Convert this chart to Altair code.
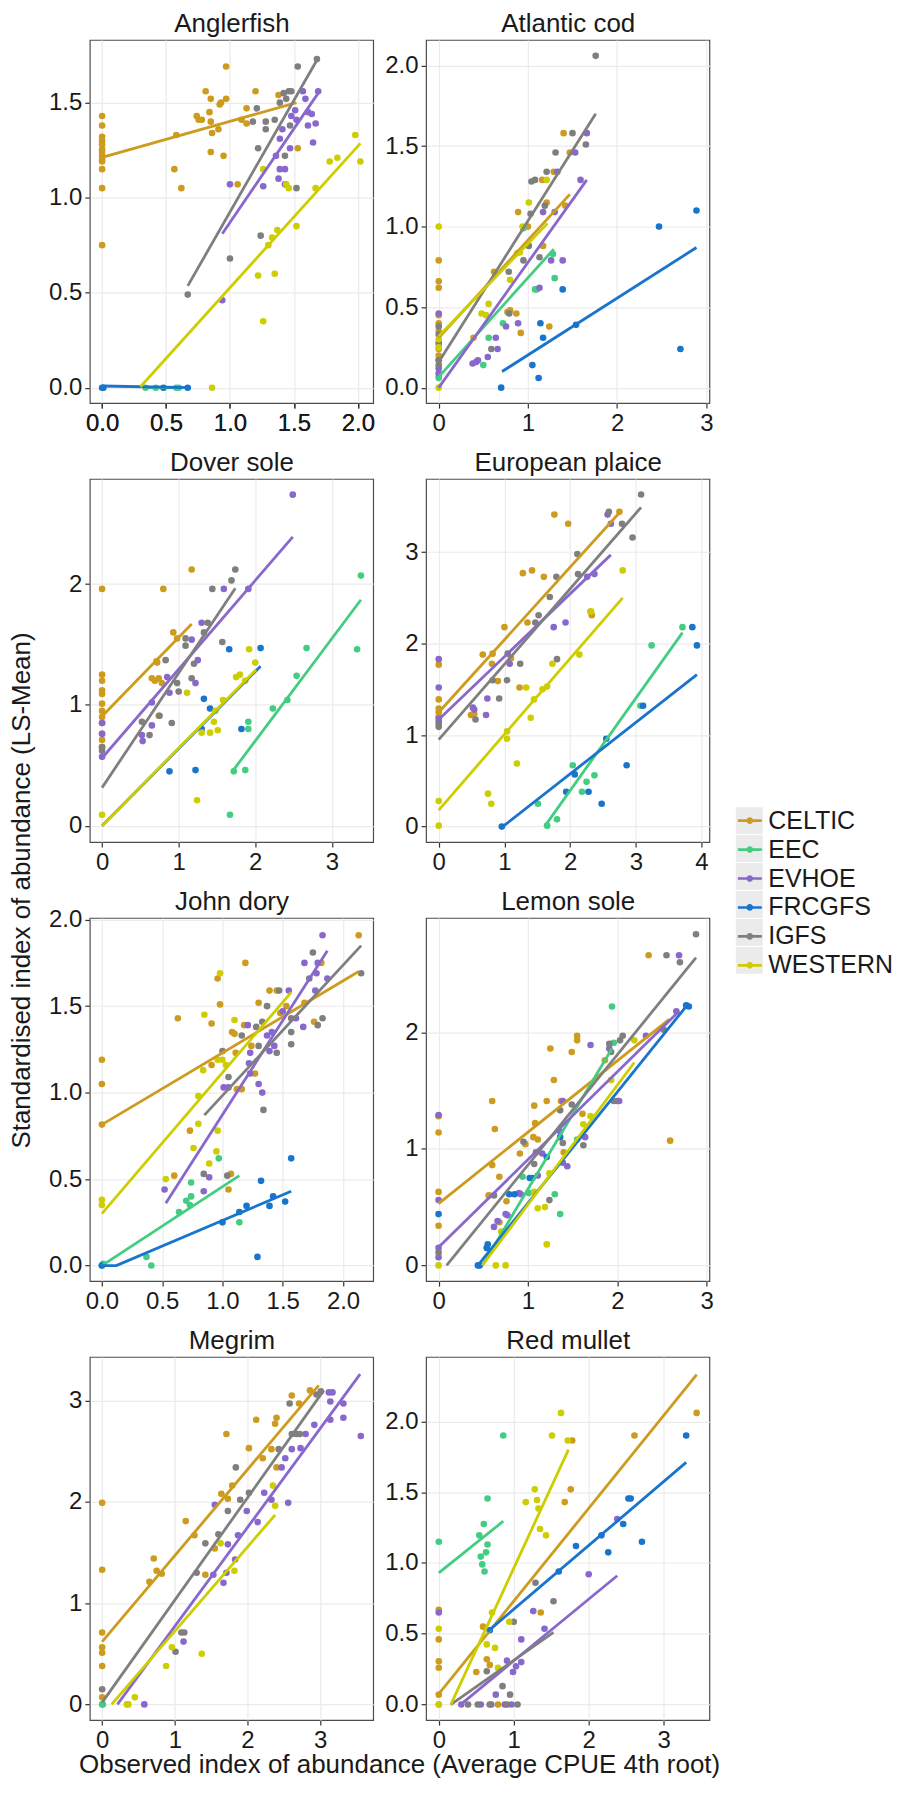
import altair as alt
import pandas as pd

FONT = "Liberation Sans"
SURVEYS = ["CELTIC", "EEC", "EVHOE", "FRCGFS", "IGFS", "WESTERN"]
COLORS = ["#CD9B1D", "#43CD80", "#8968CD", "#1874CD", "#7F7F7F", "#CDCD00"]
KEY_IDS = ["key1", "key2", "key3", "key4", "key5", "key6"]
SPECIES = ["Anglerfish", "Atlantic cod", "Dover sole", "European plaice",
           "John dory", "Lemon sole", "Megrim", "Red mullet"]

X_DOMAINS = {"Anglerfish": [-0.096, 2.12], "Atlantic cod": [-0.142, 3.035],
             "Dover sole": [-0.16, 3.54], "European plaice": [-0.193, 4.12],
             "John dory": [-0.10, 2.25], "Lemon sole": [-0.14, 3.03],
             "Megrim": [-0.17, 3.73], "Red mullet": [-0.17, 3.61]}
Y_DOMAINS = {"Anglerfish": [-0.081, 1.83], "Atlantic cod": [-0.096, 2.159],
             "Dover sole": [-0.136, 2.87], "European plaice": [-0.17, 3.80],
             "John dory": [-0.09, 2.01], "Lemon sole": [-0.135, 2.98],
             "Megrim": [-0.155, 3.43], "Red mullet": [-0.11, 2.455]}
X_TICKS = {"Anglerfish": [0, 0.5, 1, 1.5, 2], "Atlantic cod": [0, 1, 2, 3],
           "Dover sole": [0, 1, 2, 3], "European plaice": [0, 1, 2, 3, 4],
           "John dory": [0, 0.5, 1, 1.5, 2], "Lemon sole": [0, 1, 2, 3],
           "Megrim": [0, 1, 2, 3], "Red mullet": [0, 1, 2, 3]}
Y_TICKS = {"Anglerfish": [0, 0.5, 1, 1.5], "Atlantic cod": [0, 0.5, 1, 1.5, 2],
           "Dover sole": [0, 1, 2], "European plaice": [0, 1, 2, 3],
           "John dory": [0, 0.5, 1, 1.5, 2], "Lemon sole": [0, 1, 2],
           "Megrim": [0, 1, 2, 3], "Red mullet": [0, 0.5, 1, 1.5, 2]}

# ---------------- observed points (x = observed, y = standardised) ----------
ANGLERFISH = {
    "CELTIC": [(0, 1.43), (0, 1.38), (0, 1.32), (0, 1.30), (0, 1.28), (0, 1.255), (0, 1.24),
               (0, 1.22), (0, 1.20), (0, 1.19), (0, 1.15), (0, 1.05), (0, 0.75),
               (0.565, 1.15), (0.58, 1.33), (0.62, 1.05), (0.74, 1.43), (0.755, 1.41),
               (0.78, 1.41), (0.81, 1.56), (0.84, 1.45), (0.85, 1.40), (0.86, 1.34),
               (0.85, 1.52), (0.85, 1.24), (0.91, 1.36), (0.92, 1.49), (0.93, 1.50),
               (0.95, 1.22), (0.97, 1.52), (0.97, 1.69), (1.06, 1.07), (1.09, 1.41),
               (1.13, 1.47), (1.13, 1.39), (1.20, 1.56), (1.38, 1.54), (1.53, 1.26)],
    "EEC": [(0.34, 0), (0.42, 0), (0.58, 0), (0.60, 0)],
    "EVHOE": [(0.94, 0.46), (1.00, 1.07), (1.26, 1.06), (1.36, 1.22), (1.39, 1.15),
              (1.43, 1.15), (1.39, 1.31), (1.41, 1.36), (1.47, 1.26), (1.48, 1.43),
              (1.51, 1.46), (1.52, 1.41), (1.57, 1.56), (1.59, 1.52), (1.61, 1.45),
              (1.64, 1.44), (1.65, 1.29), (1.61, 1.38), (1.67, 1.39), (1.69, 1.56),
              (1.38, 1.10), (1.43, 1.07)],
    "FRCGFS": [(0, 0), (0.01, 0), (0.48, 0), (0.67, 0)],
    "IGFS": [(0.67, 0.49), (1.00, 0.68), (1.24, 0.80), (1.21, 1.47), (1.18, 1.40),
             (1.28, 1.40), (1.28, 1.36), (1.22, 1.26), (1.35, 1.41), (1.39, 1.50),
             (1.42, 1.55), (1.44, 1.52), (1.46, 1.56), (1.48, 1.56), (1.43, 1.22),
             (1.47, 1.38), (1.52, 1.05), (1.53, 1.69), (1.68, 1.73)],
    "WESTERN": [(0.86, 0.0), (1.22, 0.59), (1.26, 0.35), (1.30, 0.75), (1.33, 0.79),
                (1.35, 0.60), (1.37, 0.83), (1.26, 1.15), (1.44, 1.07), (1.46, 1.05),
                (1.52, 0.85), (1.67, 1.05), (1.78, 1.19), (1.84, 1.21), (1.98, 1.33),
                (2.02, 1.19)],
}
ANGLERFISH_FIT = {"CELTIC": [(0, 1.212), (1.52, 1.50)], "EEC": [(0.34, 0), (0.60, 0)],
                  "EVHOE": [(0.94, 0.81), (1.69, 1.55)], "FRCGFS": [(0, 0.009), (0.69, 0.0)],
                  "IGFS": [(0.67, 0.536), (1.685, 1.73)], "WESTERN": [(0.30, 0.005), (2.02, 1.286)]}

ATLANTIC_COD = {
    "CELTIC": [(0, 0.79), (0, 0.66), (0, 0.62), (0, 0.45), (0, 0.40), (0, 0.35), (0, 0.27),
               (0, 0.24), (0, 0.20), (0, 0.17), (0.39, 0.31), (0.62, 0.72), (0.77, 0.47),
               (0.80, 0.48), (0.87, 0.46), (0.89, 1.09), (0.92, 0.34), (1.0, 1.0),
               (1.16, 1.29), (1.17, 0.88), (1.21, 1.15), (1.24, 0.38), (1.29, 1.34),
               (1.40, 1.58), (1.47, 1.46), (1.42, 1.13)],
    "EEC": [(0, 0.07), (0, 0.06), (0.50, 0.14), (0.56, 0.31), (0.72, 0.40), (0.95, 0.99),
            (1.08, 0.61), (1.10, 0.61), (1.28, 0.83), (1.30, 0.68)],
    "EVHOE": [(0, 0.46), (0, 0.12), (0, 0.09), (0.38, 0.15), (0.42, 0.16), (0.44, 0.17),
              (0.55, 0.19), (0.64, 0.31), (0.66, 0.24), (0.755, 0.38), (0.89, 0.40),
              (1.13, 0.62), (1.17, 1.09), (1.26, 0.79), (1.30, 1.09), (1.33, 1.34),
              (1.39, 0.79), (1.53, 1.46), (1.59, 1.29), (1.66, 1.58)],
    "FRCGFS": [(0.70, 0.0), (1.05, 0.14), (1.12, 0.06), (1.14, 0.40), (1.17, 0.31),
               (1.39, 0.61), (1.54, 0.39), (2.47, 1.0), (2.71, 0.24), (2.89, 1.10)],
    "IGFS": [(0, 0.38), (0, 0.33), (0, 0.28), (0, 0.17), (0, 0.14), (0.59, 0.24),
             (0.785, 0.72), (0.79, 0.46), (0.95, 0.79), (1.01, 0.88), (1.03, 1.08),
             (1.04, 1.28), (1.08, 1.29), (1.13, 0.81), (1.19, 1.13), (1.21, 1.34),
             (1.31, 1.46), (1.50, 1.58), (1.65, 1.51), (1.76, 2.06)],
    "WESTERN": [(0, 1.00), (0, 0.30), (0, 0.25), (0, 0.0), (0.48, 0.46), (0.53, 0.45),
                (0.56, 0.52), (0.80, 0.67), (0.88, 0.835), (0.91, 0.84), (1.01, 1.15),
                (1.21, 1.29), (0.94, 1.0)],
}
ATLANTIC_COD_FIT = {"CELTIC": [(0, 0.31), (1.47, 1.20)], "EEC": [(0, 0.067), (1.29, 0.86)],
                    "EVHOE": [(0, 0.0), (1.66, 1.29)], "FRCGFS": [(0.71, 0.10), (2.89, 0.87)],
                    "IGFS": [(0, 0.16), (1.76, 1.70)], "WESTERN": [(0, 0.32), (1.22, 1.02)]}

DOVER_SOLE = {
    "CELTIC": [(0, 1.96), (0, 1.25), (0, 1.20), (0, 1.12), (0, 1.09), (0, 1.01), (0, 0.95),
               (0, 0.90), (0, 0.85), (0, 0.76), (0, 0.71), (0, 0.65), (0.71, 1.36),
               (0.72, 1.35), (0.80, 1.96), (0.65, 1.22), (0.69, 1.20), (0.74, 1.22),
               (0.78, 1.18), (0.74, 0.91), (0.93, 1.60), (0.98, 1.55), (1.17, 2.12)],
    "EEC": [(1.67, 0.09), (1.72, 0.45), (1.87, 0.46), (1.91, 0.86), (1.91, 0.80),
            (2.23, 0.97), (2.42, 1.04), (2.54, 1.24), (2.67, 1.47), (3.33, 1.46), (3.38, 2.07)],
    "EVHOE": [(0, 0.85), (0, 0.76), (0, 0.57), (0.52, 0.75), (0.53, 0.70), (0.65, 0.83),
              (0.65, 1.02), (0.85, 1.23), (0.88, 1.10), (1.17, 1.54), (1.22, 1.18),
              (1.25, 1.37), (1.30, 1.68), (1.59, 1.96), (1.91, 1.96), (2.49, 2.74)],
    "FRCGFS": [(0.88, 0.45), (1.22, 0.46), (1.33, 1.05), (1.41, 0.97), (1.30, 0.80),
               (1.66, 1.46), (1.82, 0.80), (2.07, 1.47)],
    "IGFS": [(0, 0.65), (0, 0.62), (0.52, 0.86), (0.62, 0.75), (0.75, 0.91), (0.83, 1.37),
             (0.91, 0.85), (1.0, 1.11), (0.98, 1.18), (1.09, 1.55), (1.09, 1.49),
             (1.17, 1.22), (1.20, 1.34), (1.33, 1.60), (1.38, 1.68), (1.44, 1.96),
             (1.57, 1.52), (1.69, 2.03), (1.74, 2.12)],
    "WESTERN": [(0, 0.09), (1.11, 1.10), (1.24, 0.21), (1.30, 0.77), (1.41, 0.77),
                (1.46, 0.86), (1.51, 0.79), (1.48, 0.95), (1.58, 1.04), (1.75, 1.23),
                (1.80, 1.25), (1.87, 1.20), (1.92, 1.46), (2.0, 1.35)],
}
DOVER_SOLE_FIT = {"CELTIC": [(0, 0.905), (1.17, 1.67)], "EEC": [(1.71, 0.456), (3.38, 1.87)],
                  "EVHOE": [(0, 0.56), (2.49, 2.39)], "FRCGFS": [(0, 0.0), (2.07, 1.32)],
                  "IGFS": [(0, 0.315), (1.74, 1.965)], "WESTERN": [(0, 0.0), (2.01, 1.29)]}

EUROPEAN_PLAICE = {
    "CELTIC": [(0, 1.77), (0, 1.39), (0, 1.29), (0, 1.25), (0, 1.20), (0.49, 1.22),
               (0.54, 1.23), (0.67, 1.88), (0.82, 1.89), (0.81, 1.78), (0.90, 1.59),
               (1.0, 2.18), (1.10, 1.84), (1.23, 1.52), (1.28, 2.77), (1.42, 2.80),
               (1.35, 2.23), (1.60, 2.73), (1.76, 3.41), (1.97, 3.31), (2.31, 2.35),
               (2.33, 2.31), (2.75, 3.44)],
    "EEC": [(1.51, 0.25), (1.65, 0.01), (1.80, 0.08), (2.04, 0.67), (2.18, 0.38),
            (2.25, 0.49), (2.37, 0.56), (3.07, 1.32), (3.24, 1.98), (3.71, 2.18)],
    "EVHOE": [(0, 1.83), (0, 1.52), (0, 1.18), (0, 1.15), (0.52, 1.30), (0.54, 1.28),
              (0.74, 1.40), (0.72, 1.22), (1.08, 1.78), (1.75, 2.18), (1.93, 2.23),
              (2.26, 2.73), (2.37, 2.76), (2.57, 3.41), (2.62, 3.31)],
    "FRCGFS": [(0.96, 0.0), (2.07, 0.57), (1.94, 0.38), (2.28, 0.38), (2.48, 0.25),
               (2.55, 0.96), (2.86, 0.67), (3.11, 1.32), (3.86, 2.18), (3.93, 1.98)],
    "IGFS": [(0, 1.09), (0, 1.12), (0.56, 1.17), (0.82, 1.60), (0.92, 1.40), (1.04, 1.60),
             (1.05, 1.89), (1.24, 1.78), (1.47, 2.23), (1.52, 2.31), (1.69, 2.51),
             (1.79, 2.73), (1.80, 1.83), (2.11, 2.98), (2.12, 2.76), (2.59, 3.44),
             (2.79, 3.31), (2.95, 3.16), (3.08, 3.63)],
    "WESTERN": [(0, 0.28), (0, 0.01), (0.75, 0.36), (0.80, 0.25), (1.04, 1.04),
                (1.04, 0.96), (1.19, 0.69), (1.33, 1.52), (1.40, 1.19), (1.45, 1.39),
                (1.58, 1.50), (1.65, 1.53), (1.73, 1.78), (2.14, 1.88), (2.32, 2.35),
                (2.80, 2.80)],
}
EUROPEAN_PLAICE_FIT = {"CELTIC": [(0, 1.25), (2.75, 3.43)], "EEC": [(1.61, 0.0), (3.71, 2.12)],
                       "EVHOE": [(0, 1.17), (2.62, 2.97)], "FRCGFS": [(0.975, 0.0), (3.93, 1.66)],
                       "IGFS": [(0, 0.95), (3.08, 3.49)], "WESTERN": [(0, 0.18), (2.80, 2.50)]}

JOHN_DORY = {
    "CELTIC": [(0, 1.19), (0, 1.05), (0, 0.815), (0.60, 0.52), (0.63, 1.43), (0.73, 0.78),
               (0.91, 1.40), (0.91, 1.16), (0.96, 1.66), (0.98, 1.51), (1.05, 0.44),
               (1.07, 0.53), (1.08, 1.35), (1.10, 1.34), (1.12, 1.02), (1.16, 1.02),
               (1.18, 1.39), (1.19, 1.75), (1.24, 1.27), (1.27, 1.11), (1.30, 1.52),
               (1.39, 1.59), (1.45, 1.59), (1.48, 1.46), (1.53, 1.50), (1.68, 1.52),
               (1.76, 1.41), (1.82, 1.75), (2.13, 1.91), (1.11, 1.23)],
    "EEC": [(0, 0.0), (0.01, 0.01), (0.37, 0.05), (0.41, 0.0), (0.64, 0.31), (0.70, 0.375),
            (0.73, 0.35), (0.74, 0.48), (0.74, 0.40), (0.97, 0.62), (1.14, 0.25)],
    "EVHOE": [(0.52, 0.44), (0.845, 0.43), (0.89, 0.51), (1.01, 1.03), (1.05, 1.03),
              (1.21, 1.39), (1.23, 1.23), (1.22, 1.17), (1.23, 1.11), (1.30, 1.05),
              (1.33, 1.00), (1.37, 1.33), (1.39, 1.24), (1.41, 1.35), (1.43, 1.27),
              (1.50, 1.47), (1.55, 1.59), (1.61, 1.43), (1.67, 1.38), (1.68, 1.75),
              (1.77, 1.59), (1.78, 1.69), (1.79, 1.75), (1.83, 1.91), (1.87, 1.66)],
    "FRCGFS": [(0, 0.0), (1.0, 0.25), (1.20, 0.345), (1.14, 0.31), (1.29, 0.05),
               (1.32, 0.49), (1.39, 0.345), (1.42, 0.40), (1.52, 0.37), (1.57, 0.62)],
    "IGFS": [(0.845, 0.53), (1.04, 0.52), (1.05, 1.09), (1.0, 1.24), (1.16, 1.33),
             (1.28, 1.38), (1.30, 1.27), (1.33, 1.41), (1.34, 0.90), (1.37, 1.50),
             (1.45, 1.23), (1.47, 1.59), (1.57, 1.28), (1.57, 1.35), (1.57, 1.43),
             (1.75, 1.81), (1.79, 1.39), (1.83, 1.43), (2.15, 1.69), (1.72, 1.66)],
    "WESTERN": [(0, 0.38), (0, 0.35), (0.53, 0.50), (0.84, 1.13), (0.85, 1.45),
                (0.80, 0.98), (0.89, 0.59), (0.95, 0.66), (0.96, 0.78), (0.98, 1.69),
                (0.96, 1.19), (1.00, 1.19), (1.03, 1.16), (1.10, 1.42), (0.76, 0.68),
                (0.80, 0.82)],
}
JOHN_DORY_FIT = {"CELTIC": [(0, 0.815), (2.13, 1.70)], "EEC": [(0, 0.0), (1.14, 0.52)],
                 "EVHOE": [(0.53, 0.36), (1.87, 1.82)],
                 "FRCGFS": [(0.0, 0.0), (0.12, 0.0), (1.57, 0.43)],
                 "IGFS": [(0.85, 0.87), (2.15, 1.85)], "WESTERN": [(0, 0.30), (1.57, 1.58)]}

LEMON_SOLE = {
    "CELTIC": [(0, 1.28), (0, 1.14), (0, 0.63), (0, 0.34), (0.60, 1.41), (0.63, 1.17),
               (0.60, 0.86), (0.68, 0.76), (0.56, 0.60), (0.68, 0.37), (0.91, 0.96),
               (0.97, 1.04), (1.06, 1.10), (1.11, 1.08), (1.07, 1.37), (1.08, 1.22),
               (1.21, 1.41), (1.25, 1.86), (1.29, 1.59), (1.37, 1.41), (1.40, 0.97),
               (1.49, 1.83), (1.55, 1.97), (1.55, 1.93), (1.61, 1.30), (1.86, 1.76),
               (2.35, 2.66), (2.59, 1.07), (0.76, 0.55)],
    "EEC": [(0.54, 0.15), (1.01, 0.62), (1.30, 0.61), (1.36, 0.44), (1.55, 1.08),
            (1.94, 2.22), (1.96, 1.91), (0.94, 0.76)],
    "EVHOE": [(0, 1.29), (0, 0.56), (0, 0.15), (0, 0.07), (0.62, 0.33), (0.66, 0.38),
              (0.75, 0.44), (0.77, 0.43), (0.90, 0.62), (0.92, 0.61), (1.16, 0.96),
              (1.39, 0.88), (1.44, 0.85), (1.39, 1.41), (1.64, 1.10), (1.70, 1.89),
              (1.91, 1.86), (2.0, 1.41), (2.02, 1.41), (2.32, 1.97), (2.69, 2.66),
              (2.66, 2.18), (1.36, 1.15), (1.11, 0.77)],
    "FRCGFS": [(0, 0.44), (0.44, 0.0), (0.46, 0.0), (0.54, 0.15), (0.55, 0.18),
               (0.79, 0.61), (0.85, 0.61), (1.02, 0.75), (1.05, 0.75), (1.21, 0.93),
               (1.36, 1.10), (2.80, 2.22), (2.77, 2.23)],
    "IGFS": [(0, 0.11), (0.62, 0.60), (0.95, 1.06), (1.07, 0.87), (1.09, 0.97),
             (1.24, 0.56), (1.36, 1.33), (1.39, 1.05), (1.49, 1.38), (1.62, 1.03),
             (1.91, 1.90), (1.93, 1.83), (1.96, 1.41), (2.03, 1.93), (2.06, 1.97),
             (2.52, 2.02), (2.55, 2.66), (2.70, 2.60), (2.88, 2.84)],
    "WESTERN": [(0, 0.0), (0.64, 0.0), (0.75, 0.0), (0.70, 0.29), (1.11, 0.49),
                (1.19, 0.50), (1.21, 0.18), (1.24, 0.79), (1.07, 0.63), (1.62, 1.21),
                (1.70, 1.28), (2.19, 1.93), (1.93, 1.59)],
}
LEMON_SOLE_FIT = {"CELTIC": [(0, 0.53), (2.58, 2.11)], "EEC": [(0.49, 0.0), (1.94, 1.86)],
                  "EVHOE": [(0, 0.155), (2.69, 2.18)], "FRCGFS": [(0.44, 0.0), (2.80, 2.25)],
                  "IGFS": [(0.09, 0.0), (2.88, 2.64)], "WESTERN": [(0.49, 0.0), (2.19, 1.74)]}

MEGRIM = {
    "CELTIC": [(0, 1.99), (0, 1.33), (0, 0.71), (0, 0.565), (0, 0.51), (0, 0.38), (0, 0.07),
               (0.65, 1.21), (0.71, 1.44), (0.75, 1.32), (0.82, 1.29), (1.15, 1.81),
               (1.27, 1.67), (1.42, 1.28), (1.55, 1.54), (1.64, 2.08), (1.71, 2.67),
               (1.73, 2.03), (1.79, 2.16), (2.02, 2.53), (2.12, 2.81), (2.21, 2.43),
               (2.33, 2.52), (2.38, 2.77), (2.40, 2.83), (2.40, 2.34), (2.61, 3.05),
               (2.71, 2.97), (2.86, 3.10)],
    "EEC": [(0, 0.0), (0.01, 0.0)],
    "EVHOE": [(0.58, 0.0), (1.12, 0.62), (1.53, 1.28), (1.55, 1.97), (1.67, 1.20),
              (1.71, 1.30), (1.73, 1.58), (1.83, 1.43), (1.87, 1.67), (1.99, 1.91),
              (2.14, 1.80), (2.23, 2.09), (2.33, 2.02), (2.47, 2.34), (2.52, 2.43),
              (2.56, 1.99), (2.61, 2.52), (2.73, 2.53), (2.80, 2.67), (2.92, 2.76),
              (3.12, 3.08), (3.17, 3.08), (3.14, 2.99), (3.14, 2.81), (3.32, 2.97),
              (3.32, 2.83), (3.56, 2.65)],
    "FRCGFS": [],
    "IGFS": [(0, 0.15), (1.01, 0.52), (1.09, 0.71), (1.13, 0.71), (1.30, 1.30),
             (1.42, 1.59), (1.60, 1.68), (1.73, 1.91), (1.84, 2.34), (1.90, 2.02),
             (2.02, 2.09), (2.43, 2.52), (2.58, 2.97), (2.61, 2.67), (2.67, 2.67),
             (2.72, 2.67), (2.95, 3.06), (3.01, 3.09)],
    "WESTERN": [(0.34, 0.0), (0.36, 0.0), (0.45, 0.07), (0.88, 0.38), (0.96, 0.565),
                (1.37, 0.50), (1.63, 1.59), (1.82, 1.32), (2.35, 2.16), (2.38, 1.96)],
}
MEGRIM_FIT = {"CELTIC": [(0, 0.62), (2.98, 3.15)], "EVHOE": [(0.21, 0.0), (3.55, 3.26)],
              "IGFS": [(0, 0.02), (3.05, 3.10)], "WESTERN": [(0.13, 0.0), (2.38, 1.87)]}

RED_MULLET = {
    "CELTIC": [(0, 0.67), (0, 0.46), (0, 0.305), (0, 0.26), (0, 0.07), (0, 0.0),
               (0.50, 0.23), (0.59, 0.55), (0.64, 0.32), (0.68, 0.28), (0.79, 0.0),
               (1.36, 0.65), (1.68, 1.43), (1.76, 1.52), (1.78, 1.865), (2.61, 1.90),
               (3.44, 2.06)],
    "EEC": [(0, 1.15), (0.54, 1.195), (0.60, 1.275), (0.63, 1.075), (0.65, 1.13),
            (0.56, 1.045), (0.58, 0.99), (0.61, 0.94), (0.65, 1.455), (0.86, 1.90)],
    "EVHOE": [(0, 0.65), (0.30, 0.0), (0.56, 0.0), (0.70, 0.0), (0.76, 0.07), (0.91, 0.31),
              (0.88, 0.0), (0.97, 0.0), (0.99, 0.23), (1.03, 0.27), (1.10, 0.46),
              (1.10, 0.30), (1.26, 0.66), (1.41, 0.535), (2.0, 0.92), (2.38, 1.31)],
    "FRCGFS": [(0.68, 0.525), (1.60, 0.94), (1.83, 1.12), (2.17, 1.195), (2.26, 1.075),
               (2.46, 1.275), (2.53, 1.455), (2.56, 1.455), (2.71, 1.15), (3.30, 1.90)],
    "IGFS": [(0.39, 0.0), (0.52, 0.0), (0.64, 0.235), (0.68, 0.0), (0.85, 0.13),
             (0.91, 0.0), (0.95, 0.07), (1.0, 0.585), (1.05, 0.0), (1.29, 0.86), (1.53, 0.73)],
    "WESTERN": [(0, 0.535), (0, 0.0), (0.64, 0.425), (0.71, 0.65), (0.75, 0.40),
                (0.79, 0.26), (0.94, 0.585), (1.16, 1.43), (1.28, 1.52), (1.31, 1.445),
                (1.33, 1.385), (1.35, 1.24), (1.43, 1.195), (1.51, 1.90), (1.63, 2.06),
                (1.72, 1.865)],
}
RED_MULLET_FIT = {"CELTIC": [(0, 0.075), (3.44, 2.33)], "EEC": [(0, 0.93), (0.86, 1.295)],
                  "EVHOE": [(0.29, 0.0), (2.38, 0.91)], "FRCGFS": [(0.65, 0.515), (3.30, 1.71)],
                  "IGFS": [(0.16, 0.0), (1.53, 0.51)], "WESTERN": [(0.16, 0.0), (1.73, 1.80)]}

POINTS = [ANGLERFISH, ATLANTIC_COD, DOVER_SOLE, EUROPEAN_PLAICE,
          JOHN_DORY, LEMON_SOLE, MEGRIM, RED_MULLET]
FITS = [ANGLERFISH_FIT, ATLANTIC_COD_FIT, DOVER_SOLE_FIT, EUROPEAN_PLAICE_FIT,
        JOHN_DORY_FIT, LEMON_SOLE_FIT, MEGRIM_FIT, RED_MULLET_FIT]

X_TITLE = "Observed index of abundance (Average CPUE 4th root)"
Y_TITLE = "Standardised index of abundance (LS-Mean)"

PANEL_W = 284
PANEL_H = 364
TEXT = "#1a1a1a"
KEY_GREY = "#EBEBEB"

LEGEND_X = 649
LEGEND_Y = 770

LEGEND_SYMBOL = ("M-1,-0.11L1,-0.11L1,0.11L-1,0.11Z "
                 "M0.28,0A0.28,0.28 0 1,1 -0.28,0A0.28,0.28 0 1,1 0.28,0Z")

color_scale = alt.Scale(domain=SURVEYS, range=COLORS)
legend = alt.Legend(title=None, orient="none", legendX=LEGEND_X, legendY=LEGEND_Y,
                    symbolType=LEGEND_SYMBOL, symbolSize=576, symbolStrokeWidth=0,
                    symbolOpacity=1, labelFontSize=25, labelFont=FONT, labelColor=TEXT,
                    labelOffset=6, rowPadding=3, zindex=2)
# grey key backgrounds (ggplot legend.key) drawn as a label-less legend underneath
key_legend = alt.Legend(title=None, orient="none", legendX=LEGEND_X - 1.5,
                        legendY=LEGEND_Y - 1, symbolType="square", symbolSize=27 * 27,
                        symbolFillColor=KEY_GREY, symbolStrokeColor=KEY_GREY,
                        symbolStrokeWidth=0, symbolOpacity=1, labelExpr="''",
                        labelFontSize=1, labelOffset=0, rowPadding=1, zindex=0)


def fmt(ticks):
    return ".1f" if any(float(t) != int(t) for t in ticks) else "d"


def panel(idx):
    name = SPECIES[idx]
    pts = pd.DataFrame([{"survey": s, "key": KEY_IDS[SURVEYS.index(s)], "x": x, "y": y}
                        for s, lst in POINTS[idx].items() for x, y in lst])
    fit = pd.DataFrame([{"survey": s, "x": x, "y": y, "k": k}
                        for s, lst in FITS[idx].items() for k, (x, y) in enumerate(lst)])
    xt, yt = X_TICKS[name], Y_TICKS[name]
    xscale = alt.Scale(domain=X_DOMAINS[name], nice=False, zero=False)
    yscale = alt.Scale(domain=Y_DOMAINS[name], nice=False, zero=False)
    xaxis_kw = dict(values=xt, format=fmt(xt), title=None)
    yaxis_kw = dict(values=yt, format=fmt(yt), title=None)
    if name == "Megrim":
        xaxis_kw.update(title=X_TITLE, titleX=310, titleY=52, titleAlign="center",
                        titleBaseline="alphabetic", titleAnchor="start")
    if name == "John dory":
        yaxis_kw.update(title=Y_TITLE, titleX=-60, titleY=-28, titleAlign="center",
                        titleBaseline="alphabetic", titleAngle=270, titleAnchor="start")
    x = alt.X("x:Q", scale=xscale, axis=alt.Axis(**xaxis_kw))
    # panel title drawn as the title of a label-less top axis
    x_top = alt.X("x:Q", scale=xscale,
                  axis=alt.Axis(orient="top", title=name, labels=False, ticks=False,
                                domain=False, grid=False, titleFontSize=26,
                                titlePadding=3, titleFontWeight="normal",
                                titleColor=TEXT, titleFont=FONT))
    y = alt.Y("y:Q", scale=yscale, axis=alt.Axis(**yaxis_kw))
    color = alt.Color("survey:N", scale=color_scale, legend=legend)
    points = alt.Chart(pts).mark_circle(size=44, opacity=1).encode(x=x, y=y, color=color)
    lines = alt.Chart(fit).mark_line(strokeWidth=2.8).encode(
        x=x_top, y=y, color=color, detail="survey:N", order="k:Q")
    layers = [points, lines]
    if idx == 0:
        keys = alt.Chart(pts).mark_point(filled=True, opacity=0, color=KEY_GREY).encode(
            x=x, y=y,
            shape=alt.Shape("key:N", scale=alt.Scale(domain=KEY_IDS, range=["square"] * 6),
                            legend=key_legend))
        layers.append(keys)
    return alt.layer(*layers).resolve_axis(x="independent").properties(
        width=PANEL_W, height=PANEL_H)


chart = alt.ConcatChart(
    concat=[panel(i) for i in range(8)], columns=2,
    spacing={"row": 76, "column": 53}, bounds="flush",
).resolve_scale(x="independent", y="independent", color="shared").configure(
    padding=0, font=FONT,
).configure_view(
    stroke="#4d4d4d", strokeWidth=1.2, fill="white",
).configure_axis(
    grid=True, gridColor="#EBEBEB", gridWidth=1.2, domain=False,
    tickColor="#333333", tickSize=5, tickWidth=1.2, labelPadding=3,
    labelFont=FONT, labelFontSize=24, labelColor=TEXT,
    titleFont=FONT, titleFontSize=26, titleColor=TEXT, titleFontWeight="normal",
)

chart.save("out.html", embed_options={"renderer": "svg", "actions": False})
